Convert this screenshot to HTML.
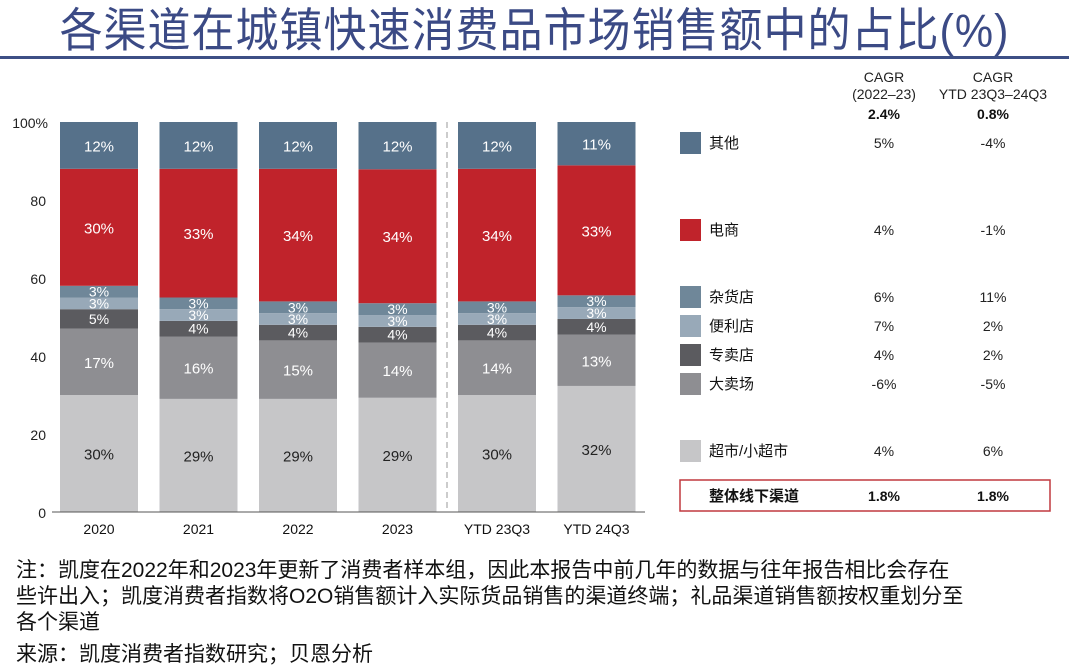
<!DOCTYPE html>
<html><head><meta charset="utf-8"><style>
body{margin:0;width:1069px;height:667px;background:#fff;overflow:hidden;font-family:"Liberation Sans","Noto Sans CJK SC",sans-serif;}
#title{position:absolute;left:0;top:-4px;width:1069px;text-align:center;font-size:43px;color:#3b4a85;font-family:"Liberation Sans","Noto Sans CJK SC",sans-serif;letter-spacing:1px;transform:scaleY(1.08);}
#rule{position:absolute;left:0;top:56px;width:1069px;height:3px;background:#3d4f85;}
.note{position:absolute;left:16px;font-size:21px;color:#111;font-family:"Liberation Sans","Noto Sans CJK SC",sans-serif;white-space:nowrap;}
</style></head><body>
<div id="title">各渠道在城镇快速消费品市场销售额中的占比(%)</div>
<div id="rule"></div>
<svg id="chart" width="1069" height="667" style="position:absolute;left:0;top:0"></svg>
<div class="note" style="top:554px">注：凯度在2022年和2023年更新了消费者样本组，因此本报告中前几年的数据与往年报告相比会存在</div>
<div class="note" style="top:580px">些许出入；凯度消费者指数将O2O销售额计入实际货品销售的渠道终端；礼品渠道销售额按权重划分至</div>
<div class="note" style="top:606px">各个渠道</div>
<div class="note" style="top:638px">来源：凯度消费者指数研究；贝恩分析</div>
<script>
const categories=["2020","2021","2022","2023","YTD 23Q3","YTD 24Q3"];
const seriesNames=["超市/小超市","大卖场","专卖店","便利店","杂货店","电商","其他"];
const supermarket=[30,29,29,29,30,32];
const hypermarket=[17,16,15,14,14,13];
const specialty=[5,4,4,4,4,4];
const convenience=[3,3,3,3,3,3];
const grocery=[3,3,3,3,3,3];
const ecommerce=[30,33,34,34,34,33];
const others=[12,12,12,12,12,11];
const yTicks=[0,20,40,60,80,100];
const cagr1=["4%","-6%","4%","7%","6%","4%","5%"];
const cagr2=["6%","-5%","2%","2%","11%","-1%","-4%"];
const series=[supermarket,hypermarket,specialty,convenience,grocery,ecommerce,others];
const colors=["#c6c6c8","#8e8e92","#5b5b5f","#98a9b8","#6f8799","#c0232b","#56718a"];
const textColors=["#222","#fff","#fff","#fff","#fff","#fff","#fff"];
const svg=document.getElementById('chart');
const NS="http://www.w3.org/2000/svg";
const y0=512,y100=122;
function yS(v){return y0-(y0-y100)*v/100;}
function xS(i){return 60+i*99.5;}
const bw=78;
function mk(t,a,p){const e=document.createElementNS(NS,t);for(const k in a)e.setAttribute(k,a[k]);(p||svg).appendChild(e);return e;}
yTicks.forEach(t=>{const e=mk('text',{x:t===100?48:46,y:yS(t)+6,'text-anchor':'end','font-size':14,fill:'#222'});


e.textContent=t===100?'100%':t;});
mk('line',{x1:447,x2:447,y1:122,y2:512,stroke:'#bbb','stroke-dasharray':'6,4','stroke-width':1.5});
categories.forEach((c,i)=>{
 let acc=0;
 let total=0;series.forEach(s=>total+=s[i]);
 const sc=100/total;
 series.forEach((s,k)=>{
  const v=s[i];const top=yS((acc+v)*sc),bot=yS(acc*sc);
  const r=mk('rect',{x:xS(i),y:top,width:bw,height:bot-top,fill:colors[k]});
  
  
  const small=v<=5;
  const t=mk('text',{x:xS(i)+bw/2,y:(top+bot)/2+(small?5:6),'text-anchor':'middle','font-size':small?14:15,fill:textColors[k]});
  
  
  t.textContent=v+'%';
  acc+=v;
 });
 const l=mk('text',{x:xS(i)+bw/2,y:534,'text-anchor':'middle','font-size':14,fill:'#111'});
 
 
 l.textContent=c;
});
mk('line',{x1:52,x2:645,y1:512,y2:512,stroke:'#555','stroke-width':1});
const hdr=[["CAGR",884,82],["(2022–23)",884,99],["CAGR",993,82],["YTD 23Q3–24Q3",993,99]];
hdr.forEach(h=>{const t=mk('text',{x:h[1],y:h[2],'text-anchor':'middle','font-size':14,fill:'#222'});


t.textContent=h[0];});
[["2.4%",884],["0.8%",993]].forEach(h=>{const t=mk('text',{x:h[1],y:119,'text-anchor':'middle','font-size':14,'font-weight':'bold',fill:'#111'});


t.textContent=h[0];});
const rowY=[451,384,355,326,297,230,143];
seriesNames.forEach((n,k)=>{
 const y=rowY[k];
 const r=mk('rect',{x:680,y:y-11,width:21,height:22,fill:colors[k]});
 
 
 const t=mk('text',{x:709,y:y+5,'font-size':15,fill:'#111'});
 
 
 t.textContent=n;
 [[cagr1[k],884],[cagr2[k],993]].forEach(c=>{const e=mk('text',{x:c[1],y:y+5,'text-anchor':'middle','font-size':14,fill:'#222'});
 
 
 e.textContent=c[0];});
});
mk('rect',{x:680,y:480,width:370,height:31,fill:'none',stroke:'#c0393f','stroke-width':1.5});
const tt=mk('text',{x:709,y:501,'font-size':15,'font-weight':'bold',fill:'#111'});


tt.textContent='整体线下渠道';
[["1.8%",884],["1.8%",993]].forEach(c=>{const e=mk('text',{x:c[1],y:501,'text-anchor':'middle','font-size':14,'font-weight':'bold',fill:'#111'});


e.textContent=c[0];});
</script>
</body></html>
